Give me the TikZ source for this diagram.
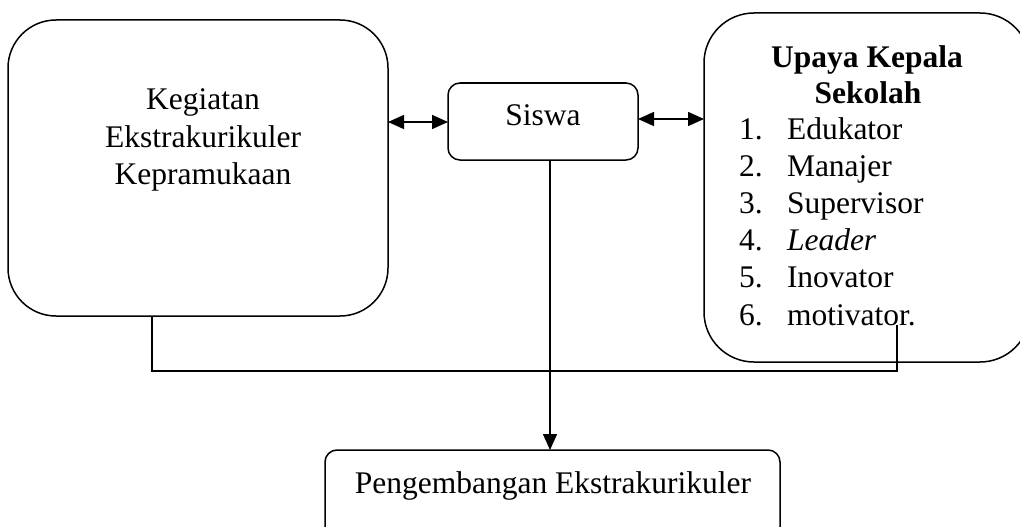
\documentclass[tikz,border=0pt]{standalone}
\usepackage{fontspec}
\setmainfont{Liberation Serif}
\usetikzlibrary{arrows.meta,calc}
\tikzset{
  box/.style={draw, line width=1.5pt, inner sep=0pt, outer sep=0pt},
  txt/.style={inner sep=0pt, outer sep=0pt, anchor=base, font=\fontsize{31.5}{37}\selectfont},
  txtw/.style={txt, anchor=base west},
  conn/.style={line width=1.5pt},
  tip/.style={-{Triangle[length=16pt,width=14pt]}},
  dtip/.style={{Triangle[length=16pt,width=14pt]}-{Triangle[length=16pt,width=14pt]}}
}
\begin{document}
\begin{tikzpicture}[x=1pt,y=-1pt]
\useasboundingbox (0,0) rectangle (1020,527);
\clip (0,0) rectangle (1020,527);
% boxes
\node[box, rounded corners=48pt, minimum width=380pt, minimum height=296pt] (left) at (198,168) {};
\node[box, rounded corners=50pt, minimum width=326pt, minimum height=349pt] (right) at (867,187.5) {};
\node[box, rounded corners=12pt, minimum width=190pt, minimum height=77pt] (siswa) at (543,121.5) {};
\node[box, rounded corners=12pt, minimum width=455pt, minimum height=100pt] (bot) at (552.5,500) {};
% texts
\node[txt] (l1) at (203,110) {Kegiatan};
\node[txt] (l2) at (203,147) {Ekstrakurikuler};
\node[txt] (l3) at (203,184) {Kepramukaan};
\node[txt] (s1) at (543,125) {Siswa};
\node[txt] (r1) at (867,67) {\bfseries Upaya Kepala};
\node[txt] (r2) at (868,103) {\bfseries Sekolah};
\node[txtw] (n1) at (739,139) {1.};
\node[txtw] (i1) at (787,139) {Edukator};
\node[txtw] (n2) at (739,176) {2.};
\node[txtw] (i2) at (787,176) {Manajer};
\node[txtw] (n3) at (739,213) {3.};
\node[txtw] (i3) at (787,213) {Supervisor};
\node[txtw] (n4) at (739,250) {4.};
\node[txtw] (i4) at (787,250) {\itshape Leader};
\node[txtw] (n5) at (739,287) {5.};
\node[txtw] (i5) at (787,287) {Inovator};
\node[txtw] (n6) at (739,325) {6.};
\node[txtw] (i6) at (787,325) {motivator.};
\node[txt] (b1) at (553,493) {Pengembangan Ekstrakurikuler};
% connectors
\draw[conn, dtip] (left.east |- 0,122) -- (siswa.west |- 0,122);
\draw[conn, dtip] (siswa.east |- 0,119) -- (right.west |- 0,119);
\coordinate (sv) at (550,160);
\coordinate (bn) at (bot.north -| sv);
\draw[conn, tip] (sv) -- (bn);
\coordinate (lb) at (152,316);
\coordinate (turn) at (897,371);
\coordinate (m) at (897,325);
\draw[conn] (lb) |- (turn) -- (m);
\end{tikzpicture}
\end{document}
